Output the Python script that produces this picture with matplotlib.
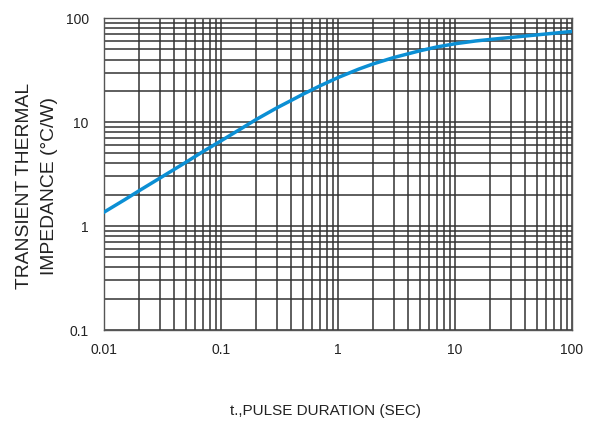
import matplotlib.pyplot as plt
from matplotlib.ticker import LogLocator, FixedLocator, FixedFormatter, NullFormatter

plt.rcParams['font.family'] = ['Liberation Sans', 'DejaVu Sans']

# pulse duration (s) vs transient thermal impedance (degC/W)
t_sec = [0.01, 0.015, 0.02, 0.03, 0.05, 0.07, 0.1, 0.15, 0.2, 0.3, 0.4, 0.5,
         0.7, 1, 1.5, 2, 3, 5, 7, 10, 15, 20, 30, 50, 70, 100]
z_th = [1.36, 1.79, 2.19, 2.89, 4.1, 5.2, 6.6, 8.7, 10.6, 13.7, 16.2, 18.5,
        22.3, 26.8, 32.3, 36.3, 41.8, 48.5, 52.8, 56.7, 60.3, 62.4, 65.2,
        69.0, 71.6, 74.5]

x_ticks = [0.01, 0.1, 1, 10, 100]
x_labels = ['0.01', '0.1', '1', '10', '100']
y_ticks = [0.1, 1, 10, 100]
y_labels = ['0.1', '1', '10', '100']

fig = plt.figure(figsize=(5.97, 4.22), dpi=100)
ax = fig.add_axes([0.1742, 0.218, 0.7838, 0.739])  # l, b, w, h

ax.set_xscale('log')
ax.set_yscale('log')
ax.set_xlim(0.01, 100)
ax.set_ylim(0.1, 100)

ax.xaxis.set_major_locator(FixedLocator(x_ticks))
ax.xaxis.set_major_formatter(FixedFormatter(x_labels))
ax.yaxis.set_major_locator(FixedLocator(y_ticks))
ax.yaxis.set_major_formatter(FixedFormatter(y_labels))
for axis in (ax.xaxis, ax.yaxis):
    axis.set_minor_locator(LogLocator(base=10, subs=range(2, 10)))
    axis.set_minor_formatter(NullFormatter())

ax.grid(which='both', color='#333333', linewidth=1.1)
ax.tick_params(which='both', length=0, labelsize=10, colors='#222222')
ax.tick_params(axis='x', pad=9)
ax.tick_params(axis='y', pad=11)
for s in ax.spines.values():
    s.set_color('#555555')
    s.set_linewidth(1.0)

ax.plot(t_sec, z_th, color='#0b8fd4', linewidth=2.5, solid_joinstyle='round', zorder=3)

fig.text(0.062, 0.559, 'TRANSIENT THERMAL\nIMPEDANCE (°C/W)', rotation=90,
         ha='center', va='center', fontsize=13.9, color='#222222', linespacing=1.6)
fig.text(0.546, 0.025, 't.,PULSE DURATION (SEC)', ha='center', va='center',
         fontsize=11, color='#222222')

fig.savefig('out.png', dpi=100)
